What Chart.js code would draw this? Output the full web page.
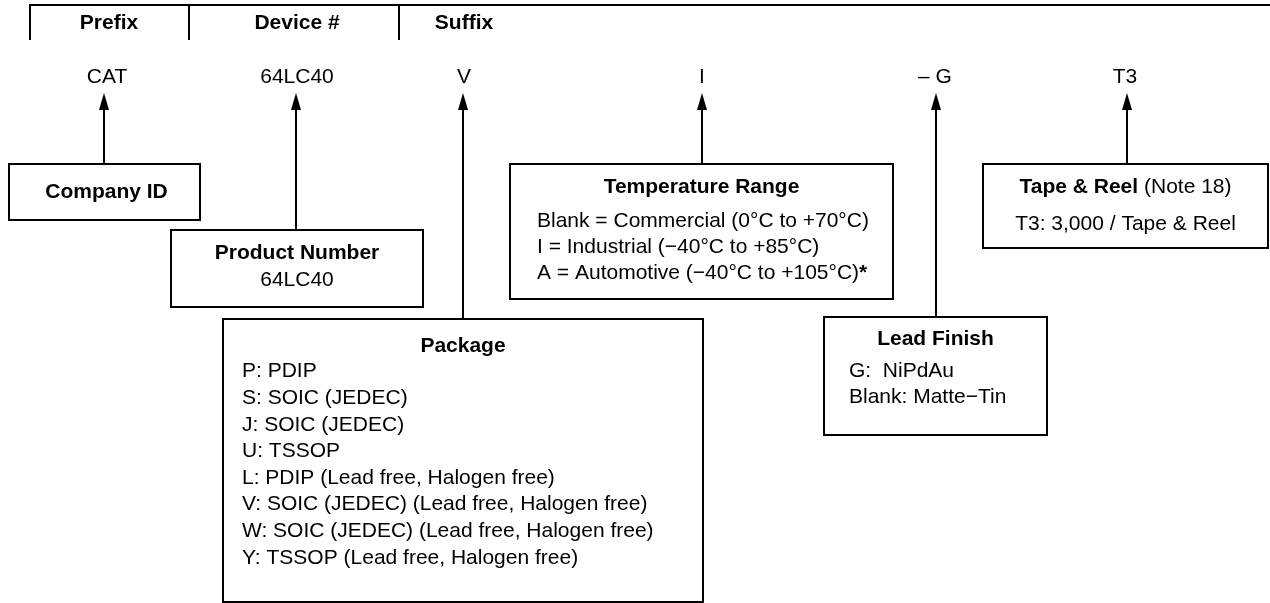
<!DOCTYPE html>
<html>
<head>
<meta charset="utf-8">
<script src="https://cdn.jsdelivr.net/npm/chart.js@4/dist/chart.umd.min.js"></script>
<style>
  html, body { margin: 0; padding: 0; background: #fff; }
  #wrap { width: 1270px; height: 603px; position: relative; }
</style>
</head>
<body>
<div id="wrap"><canvas id="chart"></canvas></div>
<script>
// ---- Data (text content of the ordering diagram)
const segmentLabels = ['Prefix', 'Device #', 'Suffix'];
const codeParts = ['CAT', '64LC40', 'V', 'I', '– G', 'T3'];
const boxTitles = ['Company ID', 'Product Number', 'Package', 'Temperature Range', 'Lead Finish', 'Tape & Reel'];
const productLines = ['64LC40'];
const packageLines = [
  'P: PDIP',
  'S: SOIC (JEDEC)',
  'J: SOIC (JEDEC)',
  'U: TSSOP',
  'L: PDIP (Lead free, Halogen free)',
  'V: SOIC (JEDEC) (Lead free, Halogen free)',
  'W: SOIC (JEDEC) (Lead free, Halogen free)',
  'Y: TSSOP (Lead free, Halogen free)'
];
const tempLines = [
  'Blank = Commercial (0°C to +70°C)',
  'I = Industrial (−40°C to +85°C)',
  'A = Automotive (−40°C to +105°C)'
];
const tempNoteMark = '*';
const finishLines = ['G:  NiPdAu', 'Blank: Matte−Tin'];
const tapeNote = ' (Note 18)';
const tapeLines = ['T3: 3,000 / Tape & Reel'];

// ---- Layout (diagram units, 1 unit = 1 px on a 1270 x 603 sheet)
const headerY = 5, headerTickBottom = 40, headerRight = 1270;
const headerTicks = [30, 189, 399];
const segmentX = [109, 297, 464];
const codeX = [107, 297, 464, 702, 935, 1125];
const arrowX = [104, 296, 463, 702, 936, 1127];
const codeY = 77, headerTextY = 23, arrowTip = 93;
// x0, y0, x1, y1 for each box, same order as boxTitles
const boxes = [
  [9, 164, 200, 220],
  [171, 230, 423, 307],
  [223, 319, 703, 602],
  [510, 164, 893, 299],
  [824, 317, 1047, 435],
  [983, 164, 1268, 248]
];

const FONT = '"Liberation Sans", Arial, Helvetica, sans-serif';
const SIZE = 21;

const datasets = [];
const lineDs = (pts, cap) => ({
  data: pts.map(([x, y]) => ({ x, y })),
  borderColor: '#000',
  borderWidth: 2,
  borderCapStyle: cap || 'butt',
  borderJoinStyle: 'miter',
  pointRadius: 0,
  tension: 0,
  fill: false
});

// header rule and ticks
datasets.push(lineDs([[headerTicks[0], headerY], [headerRight, headerY]], 'square'));
headerTicks.forEach(x => datasets.push(lineDs([[x, headerY], [x, headerTickBottom]])));
// boxes
boxes.forEach(([x0, y0, x1, y1]) => {
  datasets.push(lineDs([[x0, y0], [x1, y0], [x1, y1], [x0, y1], [x0, y0]], 'square'));
});
// arrow stems (box top -> code)
const arrowStart = datasets.length;
arrowX.forEach((x, i) => datasets.push(lineDs([[x, arrowTip + 8], [x, boxes[i][1]]])));

const diagramText = {
  id: 'diagramText',
  afterDatasetsDraw(chart) {
    const { ctx } = chart;
    const xs = chart.scales.x, ys = chart.scales.y;
    const X = v => xs.getPixelForValue(v);
    const Y = v => ys.getPixelForValue(v);
    const font = b => (b ? 'bold ' : '') + SIZE + 'px ' + FONT;

    ctx.save();
    // arrowheads on each stem
    ctx.fillStyle = '#000';
    for (let i = 0; i < arrowX.length; i++) {
      const p = chart.getDatasetMeta(arrowStart + i).data[0];
      const tipY = Y(arrowTip);
      ctx.beginPath();
      ctx.moveTo(p.x, tipY);
      ctx.lineTo(p.x - 5, tipY + 17);
      ctx.lineTo(p.x + 5, tipY + 17);
      ctx.closePath();
      ctx.fill();
    }

    ctx.textBaseline = 'middle';
    const txt = (s, x, y, bold, align) => {
      ctx.font = font(bold);
      ctx.textAlign = align || 'center';
      ctx.fillText(s, X(x), Y(y));
    };

    segmentLabels.forEach((s, i) => txt(s, segmentX[i], headerTextY, true));
    codeParts.forEach((s, i) => txt(s, codeX[i], codeY, false));

    const cx = b => (b[0] + b[2]) / 2;
    // Company ID
    txt(boxTitles[0], cx(boxes[0]) + 2, 192, true);
    // Product Number
    txt(boxTitles[1], cx(boxes[1]), 253, true);
    productLines.forEach((s, i) => txt(s, cx(boxes[1]), 280 + i * 26, false));
    // Package
    txt(boxTitles[2], cx(boxes[2]), 346, true);
    packageLines.forEach((s, i) => txt(s, 242, 371.7 + i * 26.6, false, 'left'));
    // Temperature Range
    txt(boxTitles[3], cx(boxes[3]), 187, true);
    tempLines.forEach((s, i) => txt(s, 537, 221 + i * 26, false, 'left'));
    ctx.font = font(false);
    const lastW = ctx.measureText(tempLines[tempLines.length - 1]).width;
    txt(tempNoteMark, 537 + lastW, 221 + (tempLines.length - 1) * 26, true, 'left');
    // Lead Finish
    txt(boxTitles[4], cx(boxes[4]), 339, true);
    finishLines.forEach((s, i) => txt(s, 849, 371 + i * 26, false, 'left'));
    // Tape & Reel (bold title + regular note)
    ctx.font = font(true);
    const wB = ctx.measureText(boxTitles[5]).width;
    ctx.font = font(false);
    const wN = ctx.measureText(tapeNote).width;
    const startX = X(cx(boxes[5])) - (wB + wN) / 2;
    ctx.textAlign = 'left';
    ctx.font = font(true);
    ctx.fillText(boxTitles[5], startX, Y(187));
    ctx.font = font(false);
    ctx.fillText(tapeNote, startX + wB, Y(187));
    tapeLines.forEach((s, i) => txt(s, cx(boxes[5]), 224 + i * 26, false));
    ctx.restore();
  }
};

new Chart(document.getElementById('chart'), {
  type: 'line',
  data: { datasets },
  options: {
    responsive: true,
    maintainAspectRatio: false,
    animation: false,
    events: [],
    layout: { padding: 0 },
    scales: {
      x: { type: 'linear', min: 0, max: 1270, display: false },
      y: { type: 'linear', min: 0, max: 603, reverse: true, display: false }
    },
    plugins: { legend: { display: false }, tooltip: { enabled: false } }
  },
  plugins: [diagramText]
});
</script>
</body>
</html>
